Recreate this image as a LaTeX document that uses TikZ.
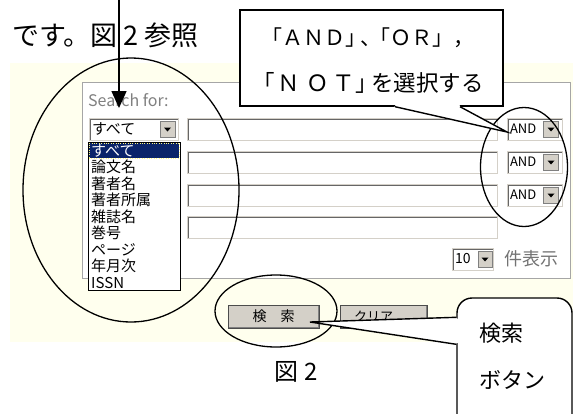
\documentclass[tikz,border=0pt]{standalone}
\usepackage{fontspec}
\setmainfont{Noto Sans CJK JP}
\usetikzlibrary{arrows.meta,shapes.geometric,positioning}
\definecolor{panelbg}{HTML}{FFFFEE}
\definecolor{btnface}{HTML}{D4D0C8}
\definecolor{selnavy}{HTML}{0A246A}
\newcommand\fsz[1]{\fontsize{#1}{#1}\selectfont}
\tikzset{
  field/.style={draw=btnface, fill=white, inner sep=0pt, minimum height=22pt,
    path picture={\draw[line width=3pt, gray!80!black] (path picture bounding box.south west) |- (path picture bounding box.north east);}},
  ddbtn/.style={fill=btnface, draw=gray, minimum width=15pt, minimum height=16pt, inner sep=0pt,
    path picture={\fill[black] ([xshift=-3.5pt,yshift=1.5pt]path picture bounding box.center) -- ++(7pt,0pt) -- ++(-3.5pt,-4pt) -- cycle;}},
  pushbtn/.style={fill=btnface, draw=black!70, minimum height=23pt, inner sep=0pt,
    path picture={\draw[line width=3pt, gray] (path picture bounding box.north east) |- (path picture bounding box.south west);
      \draw[line width=2pt, white] (path picture bounding box.south west) |- (path picture bounding box.north east);}},
  listitem/.style={anchor=west, inner sep=0pt, font=\fsz{15}},
  hilite/.style={ellipse, draw, line width=1.3pt, inner sep=0pt},
  notebox/.style={draw, fill=white, line width=1.4pt, inner sep=0pt}
}
\begin{document}
\begin{tikzpicture}[x=1pt,y=-1pt]
\useasboundingbox (0,0) rectangle (573,413);
\clip (0,0) rectangle (573,413);
% search form
\fill[panelbg] (10,63) rectangle (573,342);
\draw[gray!70, fill=white] (82,82) rectangle (570,278);
\node[anchor=west, text=gray, font=\fsz{16}, inner sep=0pt] (searchfor) at (88,100) {Search for:};
\node[field, minimum width=89pt, text width=83pt, align=left, font=\fsz{15}, inner xsep=3pt] (target) at (133.5,129) {すべて};
\node[ddbtn] (targetbtn) at (167.5,129) {};
\node[draw, fill=white, minimum width=92pt, minimum height=148pt, inner sep=0pt] (fieldlist) at (134,216) {};
\node[fill=selnavy, draw=yellow!50, dotted, minimum width=90pt, minimum height=15pt, inner sep=0pt] (selected) at (134,150.5) {};
\node[listitem, text=white] (item0) at (91,150.5) {すべて};
\foreach \name [count=\i] in {論文名,著者名,著者所属,雑誌名,巻号,ページ,年月次,ISSN}
  \node[listitem] (item\i) at (91,150.5+16.5*\i) {\name};
\foreach \y [count=\i] in {129,162,195,227.5}
  \node[field, minimum width=310pt] (term\i) at (342,\y) {};
\foreach \y [count=\i] in {129,162,195} {
  \node[field, minimum width=55pt, text width=49pt, align=left, font=\fsz{13}, inner xsep=3pt] (op\i) at (534.5,\y) {AND};
  \node[ddbtn] (opbtn\i) at (551,\y) {};
}
\node[field, minimum width=41pt, text width=35pt, align=left, font=\fsz{14}, inner xsep=3pt] (count) at (472.5,259) {10};
\node[ddbtn, minimum width=14pt] (countbtn) at (485,259) {};
\node[anchor=west, text=gray!90!black, font=\fsz{18}, inner sep=0pt] (perpage) at (504,259) {件表示};
\node[pushbtn, minimum width=91pt, font=\fsz{14}] (search) at (273.5,316.5) {検　索};
\node[pushbtn, minimum width=87pt, font=\fsz{13}] (clear) at (383.5,316.5) {\kern-20pt クリア};
\node[font=\fsz{24}] (caption) at (296,372) {図 2};
% marks
\node[hilite, minimum width=216pt, minimum height=264pt] (listring) at (131,190) {};
\node[hilite, minimum width=87pt, minimum height=119pt] (opring) at (524,167) {};
\node[hilite, minimum width=122pt, minimum height=72pt] (searchring) at (276,311) {};
% callouts
\node[notebox, minimum width=263pt, minimum height=96pt] (andnote) at (371.5,58) {};
\coordinate (andtip) at (507,132);
\fill[white] ([shift={(24,-1.5)}]andnote.south) -- ([shift={(88,-1.5)}]andnote.south)
  -- ([shift={(90,1)}]andnote.south) -- (andtip) -- ([shift={(22.5,1)}]andnote.south) -- cycle;
\draw[line width=1.4pt] ([shift={(23.5,0)}]andnote.south) -- (andtip) -- ([shift={(88.5,0)}]andnote.south);
\node[align=center, font=\fontsize{21}{46}\selectfont] (andtext) at (368,61)
  {「ＡＮＤ」\kern-6pt、\kern-12pt「ＯＲ」，\\{\fontsize{22.5}{46}\selectfont「\kern3pt Ｎ\kern6pt Ｏ\kern4pt Ｔ」\kern-7pt を選択する}};
\node[notebox, rounded corners=15pt, minimum width=115pt, minimum height=135pt] (btnnote) at (514.5,365.5) {};
\coordinate (btntip) at (310,322);
\fill[white] ([shift={(1.5,21.5)}]btnnote.north west) -- ([shift={(1.5,45.5)}]btnnote.north west)
  -- ([shift={(-2,47)}]btnnote.north west) -- (btntip) -- ([shift={(-2,20)}]btnnote.north west) -- cycle;
\draw[line width=1.4pt] ([shift={(0,20)}]btnnote.north west) -- (btntip) -- ([shift={(0,47)}]btnnote.north west);
\node[align=left, anchor=west, font=\fontsize{22}{47}\selectfont] (btntext) at (476,356.5) {検索\\ボタン};
% intro text and arrow
\node[anchor=west, font=\fsz{27}, inner sep=0pt] (intro) at (12,35) {です。図 2 参照};
\coordinate (arrowtop) at (119,-2);
\coordinate (arrowtip) at (119,108);
\draw[line width=1.5pt, -{Triangle[length=17pt,width=15pt]}] (arrowtop) -- (arrowtip);
\end{tikzpicture}
\end{document}
